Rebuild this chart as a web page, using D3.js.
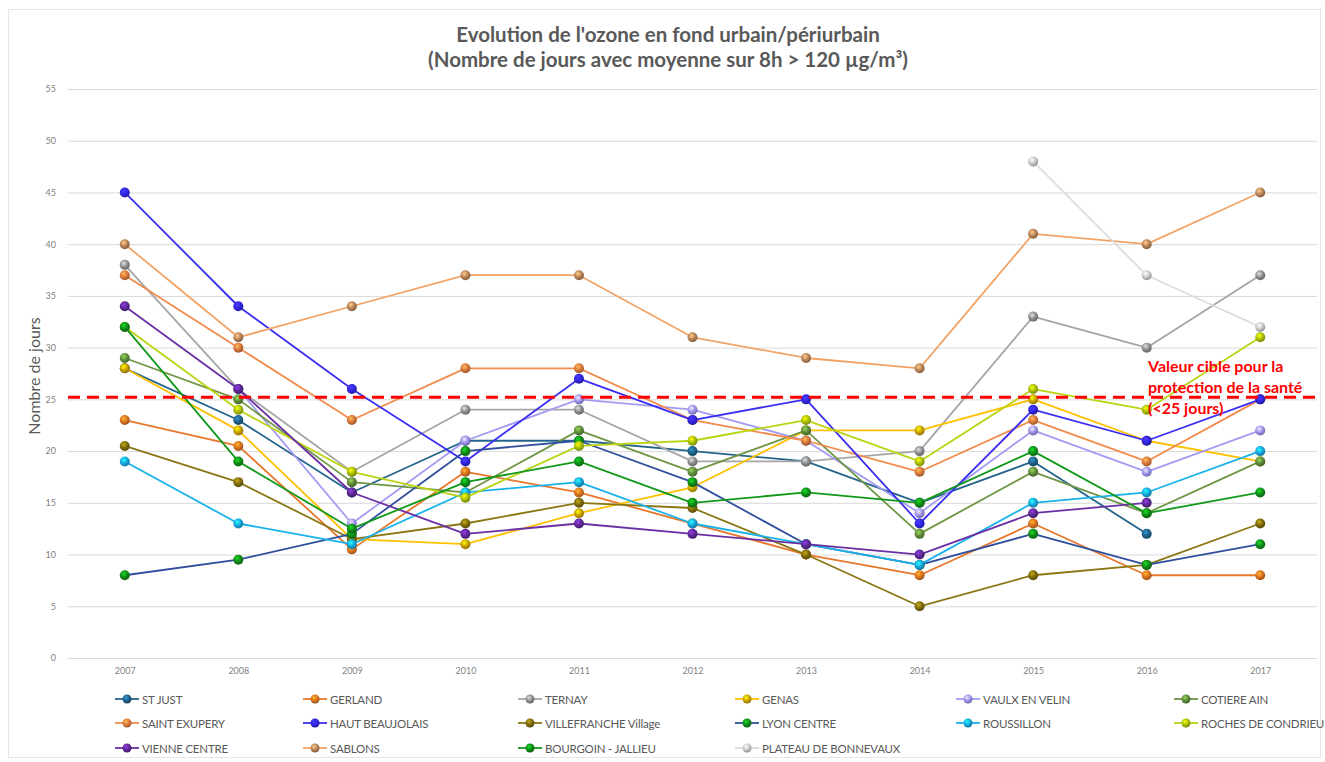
<!DOCTYPE html>
<html>
<head>
<meta charset="utf-8">
<script src="https://cdn.jsdelivr.net/npm/d3@7"></script>
<style>
  html, body { margin: 0; padding: 0; background: #ffffff; }
  svg { display: block; }
  text { font-family: Lato, "Liberation Sans", sans-serif; }
</style>
</head>
<body>
<svg id="chart" width="1325" height="762"></svg>
<script>
// Years on the category axis
const years = [2007, 2008, 2009, 2010, 2011, 2012, 2013, 2014, 2015, 2016, 2017];

// Number of days with 8h mean ozone > 120 µg/m³, per station
const stJust       = [28, 23, 16, 21, 21, 20, 19, 15, 19, 12, null];
const gerland      = [23, 20.5, 10.5, 18, 16, 13, 10, 8, 13, 8, 8];
const ternay       = [38, 26, 18, 24, 24, 19, 19, 20, 33, 30, 37];
const genas        = [28, 22, 11.5, 11, 14, 16.5, 22, 22, 25, 21, 19];
const vaulxEnVelin = [null, 26, 13, 21, 25, 24, 21, 14, 22, 18, 22];
const cotiereAin   = [29, 25, 17, 16, 22, 18, 22, 12, 18, 14, 19];
const saintExupery = [37, 30, 23, 28, 28, 23, 21, 18, 23, 19, 25];
const hautBeaujolais = [45, 34, 26, 19, 27, 23, 25, 13, 24, 21, 25];
const villefranche = [20.5, 17, 11.5, 13, 15, 14.5, 10, 5, 8, 9, 13];
const lyonCentre   = [8, 9.5, 12, 20, 21, 17, 11, 9, 12, 9, 11];
const roussillon   = [19, 13, 11, 16, 17, 13, 11, 9, 15, 16, 20];
const rochesCondrieu = [32, 24, 18, 15.5, 20.5, 21, 23, 19, 26, 24, 31];
const vienneCentre = [34, 26, 16, 12, 13, 12, 11, 10, 14, 15, null];
const sablons      = [40, 31, 34, 37, 37, 31, 29, 28, 41, 40, 45];
const bourgoin     = [32, 19, 12.5, 17, 19, 15, 16, 15, 20, 14, 16];
const plateauBonnevaux = [null, null, null, null, null, null, null, null, 48, 37, 32];

// Station names, in legend order
const stationNames = ["ST JUST", "GERLAND", "TERNAY", "GENAS", "VAULX EN VELIN", "COTIERE AIN",
  "SAINT EXUPERY", "HAUT BEAUJOLAIS", "VILLEFRANCHE Village", "LYON CENTRE", "ROUSSILLON", "ROCHES DE CONDRIEU",
  "VIENNE CENTRE", "SABLONS", "BOURGOIN - JALLIEU", "PLATEAU DE BONNEVAUX"];

// Y axis ticks
const yTicks = [0, 5, 10, 15, 20, 25, 30, 35, 40, 45, 50, 55];

// Target value for health protection
const targetValue = 25;

const seriesValues = [stJust, gerland, ternay, genas, vaulxEnVelin, cotiereAin,
  saintExupery, hautBeaujolais, villefranche, lyonCentre, roussillon, rochesCondrieu,
  vienneCentre, sablons, bourgoin, plateauBonnevaux];

// Line colour and marker colour for each station
const lineColors = ["#23648c", "#e9772b", "#a5a5a5", "#ffc000", "#a49bf2", "#6f9645",
  "#f28b4c", "#3b2ef2", "#8a7612", "#2f4f9e", "#1ab2ea", "#bcd312",
  "#6b2fa3", "#f2a467", "#12991a", "#dcdcdc"];
const markerColors = ["#1f5f86", "#d9721f", "#8e8e8e", "#c9a000", "#9b93ec", "#5f8a3a",
  "#d9773a", "#3026e0", "#7d6a0d", "#118a18", "#17a6dc", "#a8bf08",
  "#5e2894", "#b88257", "#0f8c17", "#c9c9c9"];

const svg = d3.select("#chart");

// Chart frame
svg.append("rect").attr("x", 8.5).attr("y", 9.5).attr("width", 1312).attr("height", 748)
  .attr("fill", "#ffffff").attr("stroke", "#e6e6e6").attr("stroke-width", 1);

const plotLeft = 68, plotRight = 1317, plotTop = 89, plotBottom = 658;

const x = d3.scalePoint().domain(years).range([plotLeft, plotRight]).padding(0.5);
const y = d3.scaleLinear().domain([0, 55]).range([plotBottom, plotTop]);

// Gradients for the spherical markers
const defs = svg.append("defs");
markerColors.forEach((c, i) => {
  const g = defs.append("radialGradient").attr("id", "ball" + i)
    .attr("cx", "40%").attr("cy", "35%").attr("r", "65%");
  g.append("stop").attr("offset", "0%").attr("stop-color", d3.color(c).brighter(1.3));
  g.append("stop").attr("offset", "55%").attr("stop-color", c);
  g.append("stop").attr("offset", "100%").attr("stop-color", d3.color(c).darker(0.9));
});

// Title
const title = svg.append("text").attr("x", 668).attr("text-anchor", "middle")
  .attr("fill", "#595959").attr("font-weight", "bold").attr("font-size", 20.5);
title.append("tspan").attr("x", 668).attr("y", 42).text("Evolution de l'ozone en fond urbain/périurbain");
title.append("tspan").attr("x", 668).attr("y", 67).text("(Nombre de jours avec moyenne sur 8h > 120 µg/m³)");

// Horizontal gridlines and y axis labels
const yAxis = d3.axisLeft(y).tickValues(yTicks).tickSize(-(plotRight - plotLeft)).tickPadding(12);
const yg = svg.append("g").attr("transform", `translate(${plotLeft},0)`).call(yAxis);
yg.select(".domain").remove();
yg.selectAll(".tick line").attr("stroke", "#d9d9d9").attr("stroke-width", 1);
yg.selectAll(".tick text").attr("fill", "#7f7f7f").attr("font-size", 9)
  .style("font-family", "Lato, sans-serif");

// X axis labels
const xAxis = d3.axisBottom(x).tickSize(0).tickPadding(10);
const xg = svg.append("g").attr("transform", `translate(0,${plotBottom})`).call(xAxis);
xg.select(".domain").remove();
xg.selectAll(".tick text").attr("fill", "#7f7f7f").attr("font-size", 9)
  .style("font-family", "Lato, sans-serif");

// Y axis title
svg.append("text").attr("transform", "translate(40,376) rotate(-90)")
  .attr("text-anchor", "middle").attr("fill", "#595959").attr("font-size", 16)
  .text("Nombre de jours");

// Station lines and markers
const line = d3.line()
  .defined(d => d.v !== null)
  .x(d => x(d.year))
  .y(d => y(d.v));

const seriesG = svg.append("g");
seriesValues.forEach((vals, i) => {
  const pts = years.map((yr, j) => ({ year: yr, v: vals[j] }));
  const g = seriesG.append("g");
  g.append("path").datum(pts).attr("d", line).attr("fill", "none")
    .attr("stroke", lineColors[i]).attr("stroke-width", 1.8).attr("stroke-linejoin", "round");
  g.selectAll("circle").data(pts.filter(d => d.v !== null)).join("circle")
    .attr("cx", d => x(d.year)).attr("cy", d => y(d.v)).attr("r", 5)
    .attr("fill", `url(#ball${i})`);
});

// Target line
svg.append("line").attr("x1", plotLeft).attr("x2", plotRight)
  .attr("y1", y(targetValue) - 2).attr("y2", y(targetValue) - 2)
  .attr("stroke", "#ff0000").attr("stroke-width", 3).attr("stroke-dasharray", "12,7");

const note = svg.append("text").attr("fill", "#ff0000").attr("font-weight", "bold").attr("font-size", 16);
["Valeur cible pour la", "protection de la santé", "(<25 jours)"].forEach((t, k) => {
  note.append("tspan").attr("x", 1148).attr("y", 372 + k * 21).text(t);
});

// Legend
const legendCols = [115, 303, 518, 735, 956, 1174];
const legendRows = [699, 723, 748];
const legend = svg.append("g");
stationNames.forEach((name, i) => {
  const lx = legendCols[i % 6], ly = legendRows[Math.floor(i / 6)];
  const g = legend.append("g").attr("transform", `translate(${lx},${ly})`);
  g.append("line").attr("x1", 0).attr("x2", 24).attr("y1", 0).attr("y2", 0)
    .attr("stroke", lineColors[i]).attr("stroke-width", 1.8);
  g.append("circle").attr("cx", 12).attr("cy", 0).attr("r", 4.5).attr("fill", `url(#ball${i})`);
  g.append("text").attr("x", 27).attr("y", 4.5).attr("fill", "#595959").attr("font-size", 11.5)
    .attr("letter-spacing", -0.2).text(name);
});
</script>
</body>
</html>
